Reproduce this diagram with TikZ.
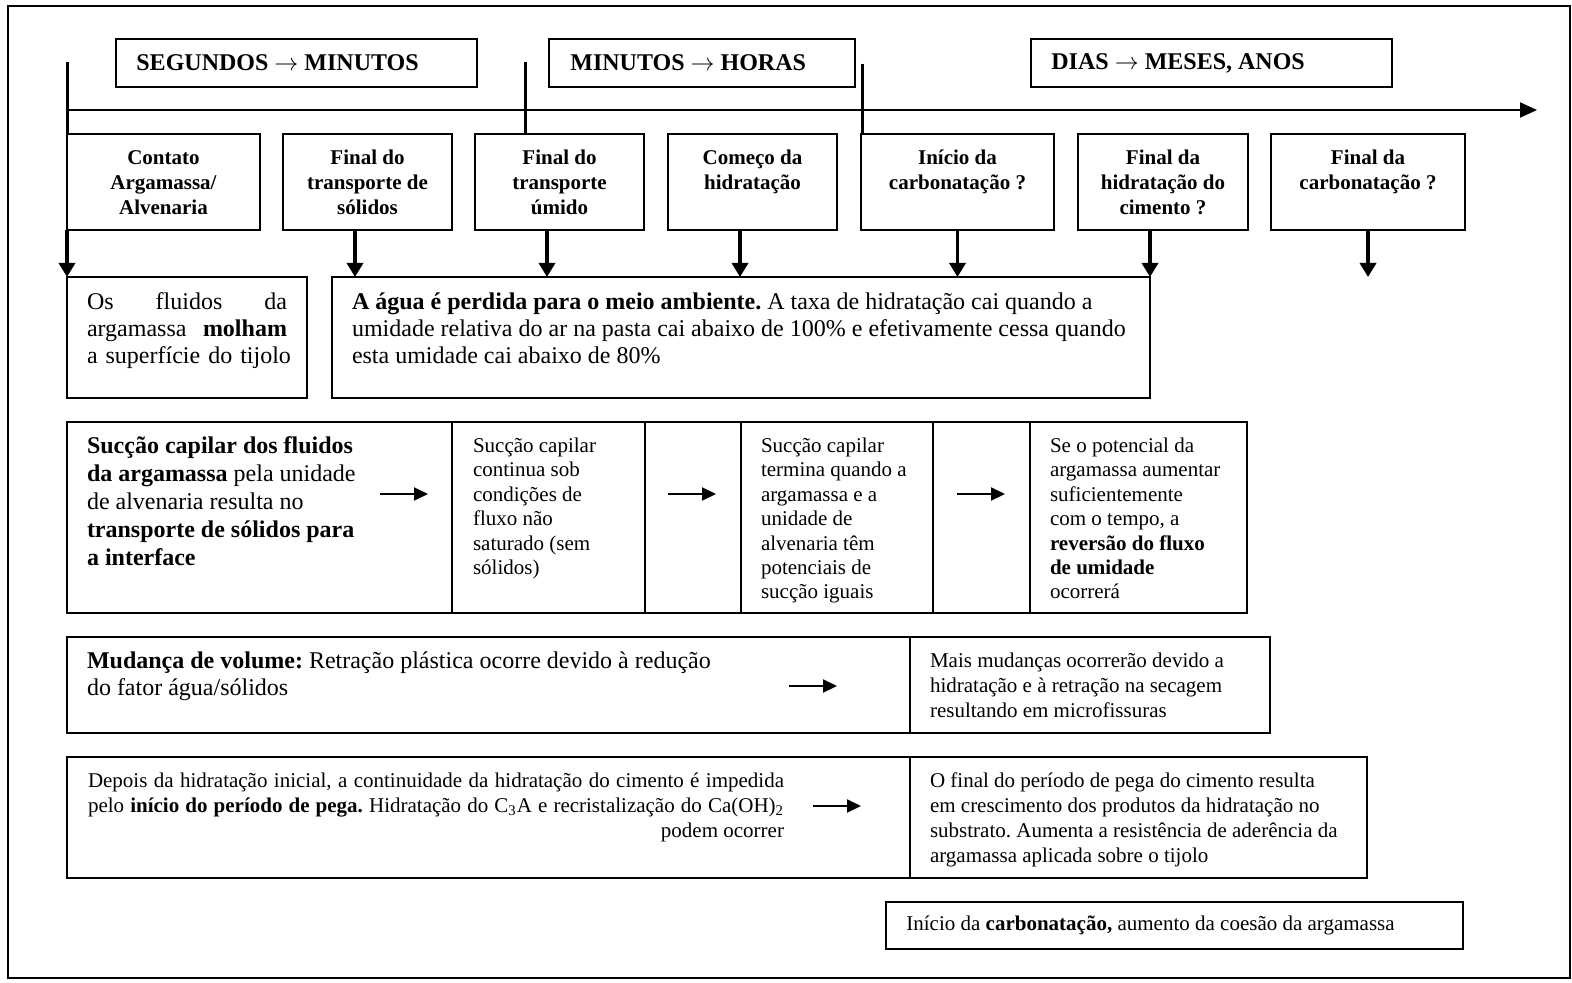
\documentclass[tikz,border=0pt]{standalone}
\usepackage{fontspec}
\setmainfont{Liberation Serif}
\usetikzlibrary{arrows.meta}
\frenchspacing
\begin{document}
\begin{tikzpicture}[x=0.5pt,y=-0.5pt,
  bx/.style={draw, line width=1pt, inner sep=0pt, outer sep=0pt, anchor=north west},
  wh/.style 2 args={minimum width={#1*0.5pt}, minimum height={#2*0.5pt}},
  tx/.style={inner sep=0pt, outer sep=0pt, anchor=north west, align=left},
  hdr/.style={inner sep=0pt, anchor=west, font=\fontsize{12}{14}\selectfont\bfseries},
  ev/.style={inner sep=0pt, anchor=north, align=center, font=\fontsize{10.5}{12.5}\selectfont\bfseries},
  big/.style={font=\fontsize{12}{13.5}\selectfont},
  bigc/.style={font=\fontsize{12}{14}\selectfont},
  sm/.style={font=\fontsize{10.5}{12.2}\selectfont},
  smb/.style={font=\fontsize{10.5}{12.5}\selectfont},
  tl/.style={line width=1pt, -{Triangle[width=7.5pt,length=8.5pt]}},
  tick/.style={line width=1.5pt},
  darr/.style={line width=1.7pt, -{Triangle[width=8pt,length=7pt]}},
  harr/.style={line width=1pt, -{Triangle[width=6.5pt,length=7pt]}}
]
\useasboundingbox (0,0) rectangle (1572,983);
% frame
\node[bx, line width=0.8pt, wh={1562}{972}] (frame) at (8,6) {};
% header boxes
\node[bx, wh={361}{48}] (h1) at (116,39) {};
\node[hdr] (h1t) at ([xshift=10pt]h1.west) {SEGUNDOS $\rightarrow$ MINUTOS};
\node[bx, wh={306}{48}] (h2) at (549,39) {};
\node[hdr] (h2t) at ([xshift=10.5pt]h2.west) {MINUTOS $\rightarrow$ HORAS};
\node[bx, wh={361}{48}] (h3) at (1031,39) {};
\node[hdr] (h3t) at ([xshift=10pt]h3.west) {DIAS $\rightarrow$ MESES, ANOS};
% event boxes
\node[bx, wh={193}{96}] (e1) at (67,134) {};
\node[bx, wh={169}{96}] (e2) at (283,134) {};
\node[bx, wh={169}{96}] (e3) at (475,134) {};
\node[bx, wh={169}{96}] (e4) at (668,134) {};
\node[bx, wh={193}{96}] (e5) at (861,134) {};
\node[bx, wh={170}{96}] (e6) at (1078,134) {};
\node[bx, wh={194}{96}] (e7) at (1271,134) {};
\node[ev] (e1t) at ([yshift=-8pt]e1.north) {Contato\\Argamassa/\\Alvenaria};
\node[ev] (e2t) at ([yshift=-8pt]e2.north) {Final do\\transporte de\\sólidos};
\node[ev] (e3t) at ([yshift=-8pt]e3.north) {Final do\\transporte\\úmido};
\node[ev] (e4t) at ([yshift=-8pt]e4.north) {Começo da\\hidratação};
\node[ev] (e5t) at ([yshift=-8pt]e5.north) {Início da\\carbonatação ?};
\node[ev] (e6t) at ([yshift=-8pt]e6.north) {Final da\\hidratação do\\cimento ?};
\node[ev] (e7t) at ([yshift=-8pt]e7.north) {Final da\\carbonatação ?};
% timeline and ticks
\coordinate (tl0) at (67,110);
\coordinate (tl1) at (1537,110);
\draw[tl] (tl0) -- (tl1);
\coordinate (k1) at (67,62);
\coordinate (k2) at (525,62);
\coordinate (k3) at (862,64);
\draw[tick] (k1) -- (e1.north west);
\draw[tick] (k2) -- (k2 |- e3.north);
\draw[tick] (k3) -- (k3 |- e5.north);
% row 2
\node[bx, wh={240}{121}] (fl) at (67,277) {};
\node[bx, wh={818}{121}] (ag) at (332,277) {};
\node[tx, big, text width=100pt] (flt) at ([shift={(10pt,-8pt)}]fl.north west)
  {Os\hfill fluidos\hfill da\\argamassa\hfill\textbf{molham}\\\mbox{a superfície do tijolo}};
\node[tx, big] (agt) at ([shift={(10pt,-8pt)}]ag.north west)
  {\textbf{A água é perdida para o meio ambiente.} A taxa de hidratação cai quando a\\umidade relativa do ar na pasta cai abaixo de 100\% e efetivamente cessa quando\\esta umidade cai abaixo de 80\%};
% down arrows
\coordinate (x2) at (355,0);
\coordinate (x3) at (547,0);
\coordinate (x4) at (740,0);
\coordinate (d7) at (1368,277);
\draw[darr] (e1.south west) -- (fl.north west);
\draw[darr] (e2.south -| x2) -- (ag.north -| x2);
\draw[darr] (e3.south -| x3) -- (ag.north -| x3);
\draw[darr] (e4.south -| x4) -- (ag.north -| x4);
\draw[darr] (e5.south) -- (ag.north -| e5.south);
\draw[darr] (e6.south -| ag.north east) -- (ag.north east);
\draw[darr] (e7.south) -- (d7);
% row 3
\node[bx, wh={385}{191}] (c1) at (67,422) {};
\node[bx, wh={193}{191}] (c2) at (452,422) {};
\node[bx, wh={96}{191}] (c3) at (645,422) {};
\node[bx, wh={192}{191}] (c4) at (741,422) {};
\node[bx, wh={97}{191}] (c5) at (933,422) {};
\node[bx, wh={217}{191}] (c6) at (1030,422) {};
\node[tx, bigc] (c1t) at ([shift={(10pt,-7.5pt)}]c1.north west)
  {\textbf{Sucção capilar dos fluidos}\\\textbf{da argamassa} pela unidade\\de alvenaria resulta no\\\textbf{transporte de sólidos para}\\\textbf{a interface}};
\node[tx, sm] (c2t) at ([shift={(10.5pt,-8pt)}]c2.north west)
  {Sucção capilar\\continua sob\\condições de\\fluxo não\\saturado (sem\\sólidos)};
\node[tx, sm] (c4t) at ([shift={(10pt,-8pt)}]c4.north west)
  {Sucção capilar\\termina quando a\\argamassa e a\\unidade de\\alvenaria têm\\potenciais de\\sucção iguais};
\node[tx, sm] (c6t) at ([shift={(10pt,-8pt)}]c6.north west)
  {Se o potencial da\\argamassa aumentar\\suficientemente\\com o tempo, a\\\textbf{reversão do fluxo}\\\textbf{de umidade}\\ocorrerá};
\coordinate (a1s) at (380,494); \coordinate (a1e) at (428,494);
\coordinate (a2s) at (668,494); \coordinate (a2e) at (716,494);
\coordinate (a3s) at (957,494); \coordinate (a3e) at (1005,494);
\draw[harr] (a1s) -- (a1e);
\draw[harr] (a2s) -- (a2e);
\draw[harr] (a3s) -- (a3e);
% row 4
\node[bx, wh={843}{96}] (r4a) at (67,637) {};
\node[bx, wh={360}{96}] (r4b) at (910,637) {};
\node[tx, big] (r4at) at ([shift={(10pt,-7.5pt)}]r4a.north west)
  {\textbf{Mudança de volume:} Retração plástica ocorre devido à redução\\do fator água/sólidos};
\node[tx, smb] (r4bt) at ([shift={(10pt,-8pt)}]r4b.north west)
  {Mais mudanças ocorrerão devido a\\hidratação e à retração na secagem\\resultando em microfissuras};
\coordinate (a4s) at (789,686); \coordinate (a4e) at (837,686);
\draw[harr] (a4s) -- (a4e);
% row 5
\node[bx, wh={843}{121}] (r5a) at (67,757) {};
\node[bx, wh={457}{121}] (r5b) at (910,757) {};
\node[tx, smb, text width=348pt, align=justify] (r5at) at ([shift={(10.5pt,-8pt)}]r5a.north west)
  {Depois da hidratação inicial, a continuidade da hidratação do cimento é impedida\linebreak pelo \textbf{início do período de pega.} Hidratação do C\textsubscript{3}A e recristalização do Ca(OH)\textsubscript{2}\linebreak\hspace*{\fill}podem ocorrer};
\node[tx, smb] (r5bt) at ([shift={(10pt,-8pt)}]r5b.north west)
  {O final do período de pega do cimento resulta\\em crescimento dos produtos da hidratação no\\substrato. Aumenta a resistência de aderência da\\argamassa aplicada sobre o tijolo};
\coordinate (a5s) at (813,806); \coordinate (a5e) at (861,806);
\draw[harr] (a5s) -- (a5e);
% row 6
\node[bx, wh={577}{47}] (r6) at (886,902) {};
\node[inner sep=0pt, anchor=west, smb] (r6t) at ([xshift=10pt]r6.west)
  {Início da \textbf{carbonatação,} aumento da coesão da argamassa};
\end{tikzpicture}
\end{document}
